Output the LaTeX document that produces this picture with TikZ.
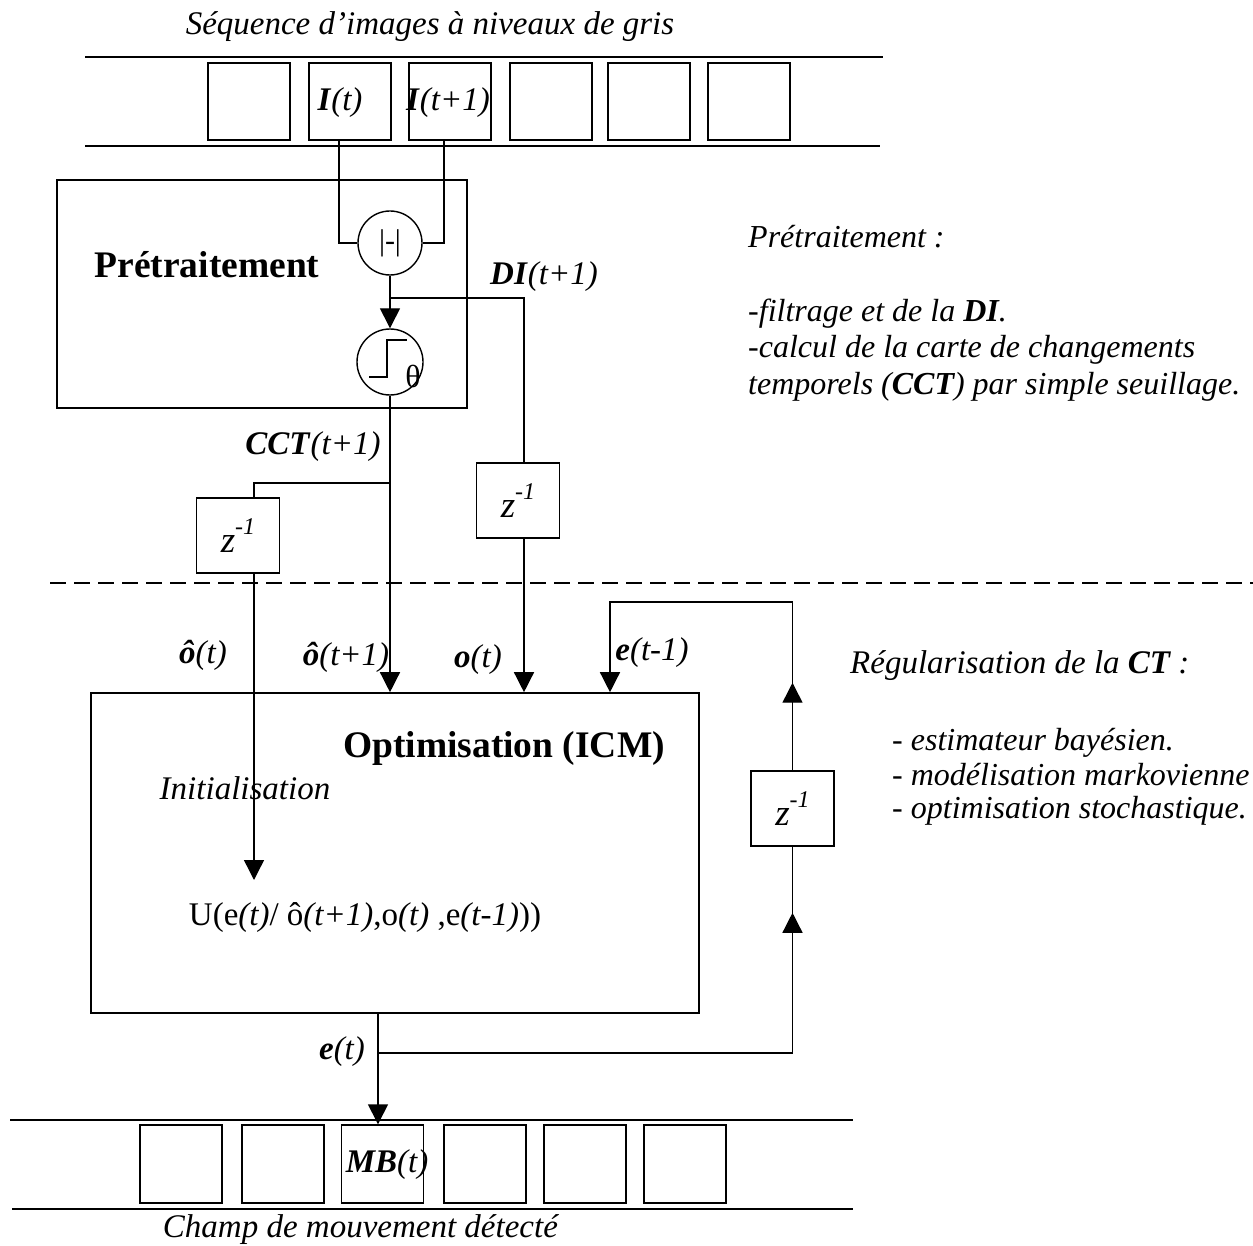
\documentclass[tikz,border=0pt]{standalone}
\usepackage{fontspec}
\setmainfont{Liberation Serif}
\usetikzlibrary{arrows.meta,decorations.markings}

\tikzset{
  wire/.style={line width=1.4pt},
  arr/.style={wire,-{Triangle[width=20pt,length=20pt]}},
  midarrow/.style={wire,postaction={decorate},
    decoration={markings,mark=at position #1 with {\arrow{Triangle[width=20pt,length=20pt]}}}},
  img/.style={draw,line width=1.4pt,minimum width=82pt,minimum height=77pt,inner sep=0pt},
  block/.style={draw,line width=1.6pt,inner sep=0pt},
  delay/.style={block,minimum width=83pt,minimum height=75pt,font=\fontsize{37}{37}\selectfont},
  op/.style={draw,circle,line width=1.4pt,minimum size=64pt,inner sep=0pt},
  lbl/.style={inner sep=0pt,font=\fontsize{33}{37}\selectfont},
  note/.style={lbl,anchor=base west,font=\fontsize{32}{36}\selectfont\itshape},
  headline/.style={inner sep=0pt,font=\fontsize{37.5}{40}\selectfont\bfseries},
}
\newcommand{\zinv}{\textit{z}\raisebox{0.5em}{\fontsize{24}{24}\selectfont\textit{-1}}}

\begin{document}
\begin{tikzpicture}[x=1pt,y=-1pt]
  \useasboundingbox (0,0) rectangle (1253,1246);

  % sequence d'images
  \node[lbl] (title) at (430,27) {\textit{Séquence d'images à niveaux de gris}};
  \draw[wire] (85,57) -- (883,57);
  \draw[wire] (85,146) -- (880,146);
  \foreach \i/\x in {1/249,2/350,3/450,4/551,5/649,6/749}
    \node[img] (f\i) at (\x,101.5) {};
  \node[lbl] (lIt) at (340,103) {\textbf{\textit{I}}\textit{(t)}};
  \node[lbl] (lIt1) at (448,103) {\textbf{\textit{I}}\textit{(t+1)}};

  % pretraitement
  \node[block,minimum width=410pt,minimum height=228pt] (pre) at (262,294) {};
  \node[headline] (preT) at (207,265) {Prétraitement};
  \node[op,font=\fontsize{30}{30}\selectfont] (diff) at (390,243) {|-|};
  \node[op,minimum size=66pt] (thr) at (390,362) {};
  \draw[wire] ([shift={(-21,15)}]thr.center) -- ++(18,0) -- ++(0,-37) -- ++(20,0);
  \node[lbl,font=\fontsize{32}{32}\selectfont] (theta) at ([shift={(23,14)}]thr.center) {θ};
  \draw[wire] ([xshift=-11pt]f2.south) |- (diff.west);
  \draw[wire] ([xshift=-6pt]f3.south) |- (diff.east);
  \draw[arr] (diff) -- (thr);
  \node[lbl] (lDI) at (544,277) {\textbf{\textit{DI}}\textit{(t+1)}};
  \node[lbl] (lCCT) at (313,447) {\textbf{\textit{CCT}}\textit{(t+1)}};

  % retards
  \node[delay] (zCCT) at (238,535.5) {\zinv};
  \node[delay] (zDI) at (518,500.5) {\zinv};
  \node[delay] (zE) at (792.5,808.5) {\zinv};

  \draw[line width=2.5pt,dash pattern=on 16pt off 8pt] (50,583) -- (1253,583);

  % optimisation
  \node[block,minimum width=608pt,minimum height=320pt] (icm) at (395,853) {};
  \node[headline] (icmT) at (504,748) {Optimisation (ICM)};
  \node[lbl] (init) at (245,788) {\textit{Initialisation}};
  \node[lbl] (energy) at (365,918) {U(e\textit{(t)}/ ô\textit{(t+1)},o\textit{(t)} ,e\textit{(t-1)}))};

  \coordinate (diJ) at (390,298);
  \coordinate (diIn) at ([xshift=6pt]zDI.north);
  \coordinate (diOut) at ([xshift=6pt]zDI.south);
  \draw[wire] (diJ) -| (diIn);
  \draw[arr] (diOut) -- (diOut |- icm.north);
  \draw[arr] (thr) -- (thr |- icm.north);
  \coordinate (cctJ) at (390,483);
  \coordinate (cctIn) at ([xshift=16pt]zCCT.north);
  \coordinate (cctOut) at ([xshift=16pt]zCCT.south);
  \coordinate (initEnd) at (cctOut |- 0,880);
  \draw[wire] (cctJ) -| (cctIn);
  \draw[arr] (cctOut) -- (initEnd);

  \node[lbl] (lot) at (203,655) {\textbf{\textit{ô}}\textit{(t)}};
  \node[lbl] (lot1) at (346,657) {\textbf{\textit{ô}}\textit{(t+1)}};
  \node[lbl] (lo) at (478,660) {\textbf{\textit{o}}\textit{(t)}};
  \node[lbl] (le1) at (652,653) {\textbf{\textit{e}}\textit{(t-1)}};

  % boucle e(t)
  \coordinate (eJ) at (378,1053);
  \coordinate (fb) at (610,602);
  \draw[wire] (eJ) -- (eJ -| zE.south);
  \draw[midarrow=0.68] (eJ -| zE.south) -- (zE.south);
  \draw[midarrow=0.52] (zE.north) -- (zE.north |- fb);
  \draw[arr] (zE.north |- fb) -- (fb) -- (fb |- icm.north);
  \node[lbl] (le) at (342,1052) {\textbf{\textit{e}}\textit{(t)}};

  % champ de mouvement
  \draw[wire] (10,1120) -- (853,1120);
  \draw[wire] (12,1209) -- (853,1209);
  \foreach \i/\x in {1/181,2/283,3/382.5,4/485,5/585,6/685}
    \node[img,minimum height=78pt] (m\i) at (\x,1164) {};
  \draw[arr] (eJ |- icm.south) -- (eJ |- m3.north);
  \node[lbl] (lMB) at (387,1165) {\textbf{\textit{MB}}\textit{(t)}};
  \node[lbl] (out) at (361,1230) {\textit{Champ de mouvement détecté}};

  % notes
  \node[note] (preN1) at (748,248) {Prétraitement :};
  \node[note] (preN2) at (748,322) {-filtrage et de la \textbf{DI}.};
  \node[note] (preN3) at (748,358) {-calcul de la carte de changements};
  \node[note] (preN4) at (748,395) {temporels (\textbf{CCT}) par simple seuillage.};
  \node[note,font=\fontsize{33}{37}\selectfont\itshape] (regT) at (850,673) {Régularisation de la \textbf{CT} :};
  \node[note] (regN1) at (892,750) {- estimateur bayésien.};
  \node[note] (regN2) at (892,785) {- modélisation markovienne};
  \node[note] (regN3) at (892,818) {- optimisation stochastique.};
\end{tikzpicture}
\end{document}
